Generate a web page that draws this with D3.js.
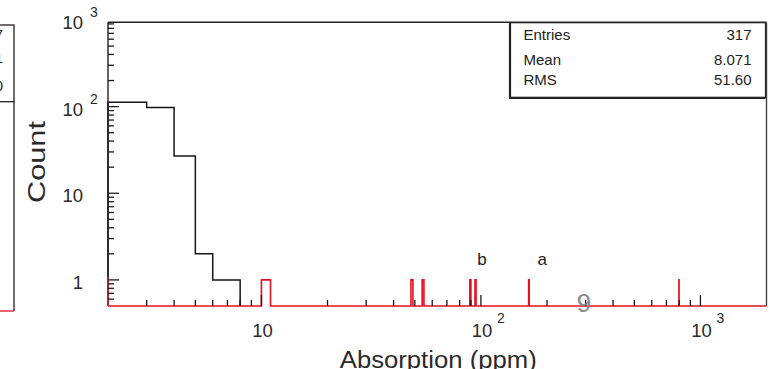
<!DOCTYPE html>
<html>
<head>
<meta charset="utf-8">
<script src="https://cdn.jsdelivr.net/npm/d3@7"></script>
<style>
  html, body { margin: 0; padding: 0; background: #fff; }
  svg { display: block; }
  text { font-family: "Liberation Sans", Arial, Helvetica, sans-serif; }
</style>
</head>
<body>
<svg id="chart" width="769" height="369"></svg>
<script>
// Absorption histogram (counts per 1 ppm bin), log-log display
const blackEdges  = [2, 3, 4, 5, 6, 7, 8];
const blackCounts = [112, 98, 27, 2, 1, 1];

// isolated entries beyond 8 ppm, one count per 1 ppm bin
const redBinLow   = [10, 48, 54, 89, 94, 165, 798];
const redCounts   = [1, 1, 1, 1, 1, 1, 1];
const redBinWidth = 1;

// peak annotations: label, x (ppm), y (count level)
const annotLabels = ["b", "a"];
const annotX      = [101, 190];
const annotY      = [1.5, 1.5];

// axis ticks
const xMajor = [10, 100, 1000];
const xMinor = [3, 4, 5, 6, 7, 8, 9, 20, 30, 40, 50, 60, 70, 80, 90,
                200, 300, 400, 500, 600, 700, 800, 900];
const yMajor = [1, 10, 100];
const yMinor = [0.6, 0.7, 0.8, 0.9, 2, 3, 4, 5, 6, 7, 8, 9,
                20, 30, 40, 50, 60, 70, 80, 90, 200, 300, 400, 500, 600, 700, 800, 900];
const xTickLabels = [{base: "10", exp: ""}, {base: "10", exp: "2"}, {base: "10", exp: "3"}];
const yTickValues = [1, 10, 100, 1000];
const yTickLabels = [{base: "1", exp: ""}, {base: "10", exp: ""}, {base: "10", exp: "2"}, {base: "10", exp: "3"}];

// statistics box
const statNames  = ["Entries", "Mean", "RMS"];
const statValues = ["317", "8.071", "51.60"];

// neighbouring panel (only its right edge is on the page)
const prevStatValues = ["317", "8.071", "51.60"];

const RED = "#e3101f";
const svg = d3.select("#chart");

const frame = {left: 108, right: 766.5, top: 22.3, bottom: 306};
const x = d3.scaleLog().domain([2, 2000]).range([frame.left, frame.right]);
const y = d3.scaleLog().domain([0.5, 940]).range([frame.bottom, frame.top]);

// ---- neighbouring panel edge ----
const prev = svg.append("g");
prev.append("rect").attr("x", -20).attr("y", 25).attr("width", 34).attr("height", 76.7)
  .attr("fill", "#fff").attr("stroke", "#222").attr("stroke-width", 1.3);
prev.append("line").attr("x1", 14).attr("x2", 14).attr("y1", 101).attr("y2", 311)
  .attr("stroke", "#222").attr("stroke-width", 1.3);
prev.append("line").attr("x1", 0).attr("x2", 14).attr("y1", 311).attr("y2", 311)
  .attr("stroke", RED).attr("stroke-width", 1.3);
prev.selectAll("text").data(prevStatValues).join("text")
  .attr("x", 3).attr("y", (d, i) => [40, 63, 91][i])
  .attr("text-anchor", "end").attr("font-size", 15).attr("fill", "#222")
  .text(d => d);

// ---- plot area ----
svg.append("rect").attr("x", frame.left).attr("y", frame.top)
  .attr("width", frame.right - frame.left).attr("height", frame.bottom - frame.top)
  .attr("fill", "#fff").attr("stroke", "none");

// ---- black histogram ----
function stepPath(edges, counts) {
  const pts = [[x(edges[0]), frame.bottom]];
  counts.forEach((c, i) => {
    pts.push([x(edges[i]), y(c)]);
    pts.push([x(edges[i + 1]), y(c)]);
  });
  pts.push([x(edges[edges.length - 1]), frame.bottom]);
  return d3.line()(pts);
}
svg.append("path").attr("d", stepPath(blackEdges, blackCounts))
  .attr("fill", "none").attr("stroke", "#151515").attr("stroke-width", 1.5);

// ---- red histogram (baseline across the full range with spikes) ----
function redPath() {
  const pts = [[frame.left, frame.bottom]];
  redBinLow.forEach((lo, i) => {
    const hi = lo + redBinWidth;
    pts.push([x(lo), frame.bottom]);
    pts.push([x(lo), y(redCounts[i])]);
    pts.push([x(hi), y(redCounts[i])]);
    pts.push([x(hi), frame.bottom]);
  });
  pts.push([frame.right, frame.bottom]);
  return d3.line()(pts);
}
svg.append("path").attr("d", redPath())
  .attr("fill", "none").attr("stroke", RED).attr("stroke-width", 1.6);

// ---- frame border ----
const border = svg.append("g").attr("stroke-width", 1.4).attr("fill", "none");
border.append("line").attr("x1", frame.left).attr("x2", frame.right)
  .attr("y1", frame.top).attr("y2", frame.top).attr("stroke", "#222");
border.append("line").attr("x1", frame.right).attr("x2", frame.right)
  .attr("y1", frame.top).attr("y2", frame.bottom).attr("stroke", "#444");
border.append("line").attr("x1", frame.left).attr("x2", frame.left)
  .attr("y1", frame.top).attr("y2", y(1.08)).attr("stroke", "#222");
border.append("line").attr("x1", frame.left).attr("x2", frame.left)
  .attr("y1", y(1.08)).attr("y2", frame.bottom).attr("stroke", RED);

// ---- ticks (inside the frame) ----
const ticks = svg.append("g").attr("stroke", "#1a1a1a").attr("stroke-width", 1.3);
ticks.selectAll(".xmaj").data(xMajor).join("line")
  .attr("x1", d => x(d)).attr("x2", d => x(d))
  .attr("y1", frame.bottom).attr("y2", frame.bottom - 11);
ticks.selectAll(".xmin").data(xMinor).join("line")
  .attr("x1", d => x(d)).attr("x2", d => x(d))
  .attr("y1", frame.bottom).attr("y2", frame.bottom - 6);
ticks.selectAll(".ymaj").data(yMajor).join("line")
  .attr("x1", frame.left).attr("x2", frame.left + 11)
  .attr("y1", d => y(d)).attr("y2", d => y(d));
ticks.selectAll(".ymin").data(yMinor).join("line")
  .attr("x1", frame.left).attr("x2", frame.left + 6)
  .attr("y1", d => y(d)).attr("y2", d => y(d));

// ---- tick labels ----
const labelColor = "#2a2a2a";
const xl = svg.append("g").attr("fill", labelColor);
xMajor.forEach((v, i) => {
  const lab = xTickLabels[i];
  xl.append("text").attr("x", x(v) + 1).attr("y", frame.bottom + 31)
    .attr("text-anchor", "middle").attr("font-size", 18.5).text(lab.base);
  if (lab.exp) {
    xl.append("text").attr("x", x(v) + 16).attr("y", frame.bottom + 17)
      .attr("font-size", 14).text(lab.exp);
  }
});
const yl = svg.append("g").attr("fill", labelColor);
yTickValues.forEach((v, i) => {
  const lab = yTickLabels[i];
  const ty = y(v);
  yl.append("text").attr("x", frame.left - 25).attr("y", ty + 9)
    .attr("text-anchor", "end").attr("font-size", 18.5).text(lab.base);
  if (lab.exp) {
    yl.append("text").attr("x", frame.left - 18).attr("y", ty - 3)
      .attr("font-size", 14).text(lab.exp);
  }
});

// ---- axis titles ----
svg.append("text").attr("transform", "translate(45,203) rotate(-90)")
  .attr("font-size", 24).attr("fill", labelColor)
  .attr("textLength", 82).attr("lengthAdjust", "spacingAndGlyphs")
  .text("Count");
svg.append("text").attr("x", (frame.left + frame.right) / 2 + 1).attr("y", 368)
  .attr("text-anchor", "middle").attr("font-size", 23).attr("fill", labelColor)
  .attr("textLength", 197).attr("lengthAdjust", "spacingAndGlyphs")
  .text("Absorption (ppm)");

// ---- annotations ----
svg.selectAll(".annot").data(annotLabels).join("text")
  .attr("x", (d, i) => x(annotX[i])).attr("y", (d, i) => y(annotY[i]))
  .attr("text-anchor", "middle").attr("font-size", 17).attr("fill", "#222")
  .text(d => d);
svg.append("text").attr("x", 584).attr("y", 312)
  .attr("text-anchor", "middle").attr("font-size", 26).attr("fill", "#8a8a8a")
  .attr("font-weight", 300).text("9");

// ---- statistics box ----
const box = {x: 510.5, y: 22.7, w: 255, h: 74.6};
const sb = svg.append("g");
sb.append("rect").attr("x", box.x).attr("y", box.y).attr("width", box.w).attr("height", box.h)
  .attr("fill", "#fff").attr("stroke", "#222").attr("stroke-width", 1.2);
sb.append("line").attr("x1", box.x - 0.8).attr("x2", box.x - 0.8)
  .attr("y1", box.y).attr("y2", box.y + box.h + 1).attr("stroke", "#222").attr("stroke-width", 1.6);
sb.append("line").attr("x1", box.x - 1.5).attr("x2", box.x + box.w)
  .attr("y1", box.y + box.h + 0.8).attr("y2", box.y + box.h + 0.8).attr("stroke", "#222").attr("stroke-width", 1.6);
const rowsY = [40, 65, 85];
statNames.forEach((n, i) => {
  sb.append("text").attr("x", box.x + 13).attr("y", rowsY[i])
    .attr("font-size", 15).attr("fill", "#222").text(n);
  sb.append("text").attr("x", box.x + box.w - 14).attr("y", rowsY[i])
    .attr("text-anchor", "end").attr("font-size", 15).attr("fill", "#222").text(statValues[i]);
});
</script>
</body>
</html>
